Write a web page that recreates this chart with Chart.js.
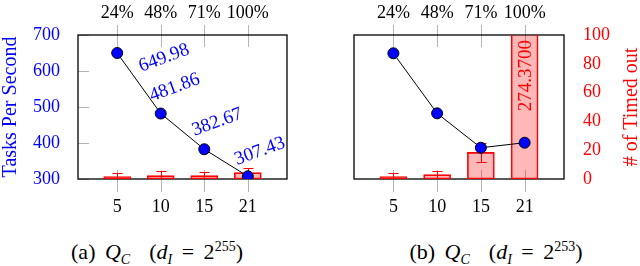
<!DOCTYPE html>
<html>
<head>
<meta charset="utf-8">
<script src="https://cdn.jsdelivr.net/npm/chart.js@4.4.1/dist/chart.umd.min.js"></script>
<style>
body { margin: 0; background: #fff; width: 640px; height: 266px; overflow: hidden; position: relative; font-family: "Liberation Serif", "Times New Roman", Times, "Nimbus Roman", "Noto Serif", "DejaVu Serif", FreeSerif, serif; }
.plot { position: absolute; top: 0; width: 320px; height: 225px; }
.cap { position: absolute; top: 240px; font-size: 22px; line-height: 24px; word-spacing: 4px; white-space: nowrap; transform: translateX(-50%); color: #000; }
.cap sub, .cap sup { font-size: 14px; line-height: 0; }
</style>
</head>
<body>
<div class="plot" style="left:0"><canvas id="chartA"></canvas></div>
<div class="plot" style="left:320px"><canvas id="chartB"></canvas></div>
<div class="cap" style="left:157px">(a) <i>Q<sub>C</sub></i>&nbsp; (<i>d<sub>I</sub></i> = 2<sup>255</sup>)</div>
<div class="cap" style="left:496px">(b) <i>Q<sub>C</sub></i>&nbsp; (<i>d<sub>I</sub></i> = 2<sup>253</sup>)</div>
<script>
// categories (bottom axis) and load share (top axis)
const threads = ['5', '10', '15', '21'];
const loads = ['24%', '48%', '71%', '100%'];
const pos = [1, 2, 3, 4];

// (a) d_I = 2^255
const tpsA = [649.98, 481.86, 382.67, 307.43];
const timeoutA = [1.6, 2.3, 2.3, 4.4];
const timeoutErrA = [2.4, 3.5, 2.3, 3.4];

// (b) d_I = 2^253 (points read against the right-hand scale, left axis is not shown)
const tpsB = [87.3, 45.6, 21.7, 25.2];
const timeoutB = [1.6, 3.0, 18.5, 274.37];
const timeoutErrB = [2.8, 2.8, 6.5, 8];

const SERIF = '"Liberation Serif", "Times New Roman", Times, "Nimbus Roman", "Noto Serif", "DejaVu Serif", FreeSerif, serif';
const BLUE = '#0000ff';
const RED = '#ff0000';
const GRAY = '#b4b4b4';

function pts(vals) {
    return pos.map((p, i) => ({ x: p, y: vals[i] }));
}

function xAxis(position, labels, pad, size) {
    return {
        type: 'linear',
        position: position,
        min: 0.7,
        max: 4.3,
        afterBuildTicks: s => { s.ticks = pos.map(v => ({ value: v })); },
        ticks: {
            callback: (v, i) => labels[i],
            color: '#000',
            font: { family: SERIF, size: 18 },
            padding: pad,
            maxRotation: 0,
            autoSkip: false
        },
        grid: { display: false },
        border: { display: false },
        afterFit: s => { s.height = size; }
    };
}

// box round the plot plus the small gray tick marks
const frame = {
    id: 'frame',
    beforeDatasetsDraw(chart, args, opts) {
        const { ctx, chartArea: a, scales } = chart;
        ctx.save();
        ctx.strokeStyle = GRAY;
        ctx.lineWidth = 1;
        ctx.beginPath();
        pos.forEach(v => {
            const x = Math.round(scales.x.getPixelForValue(v)) + 0.5;
            ctx.moveTo(x, a.top - 10);
            ctx.lineTo(x, a.top + 12);
            ctx.moveTo(x, a.bottom - 9);
            ctx.lineTo(x, a.bottom + 13);
        });
        if (opts.yTicks) {
            const y = scales[opts.yTicks];
            y.ticks.forEach(t => {
                const py = Math.round(y.getPixelForValue(t.value)) + 0.5;
                ctx.moveTo(a.left, py);
                ctx.lineTo(a.left + 11, py);
            });
        }
        ctx.stroke();
        ctx.strokeStyle = '#000';
        ctx.lineWidth = 1.3;
        ctx.strokeRect(a.left, a.top, a.right - a.left, a.bottom - a.top);
        ctx.restore();
    }
};

const errorBars = {
    id: 'errorBars',
    afterDatasetDraw(chart, args) {
        const ds = chart.data.datasets[args.index];
        if (!ds.errors) return;
        const { ctx, chartArea: a } = chart;
        const meta = args.meta;
        const y = chart.scales[meta.yAxisID];
        ctx.save();
        ctx.beginPath();
        ctx.rect(a.left, a.top, a.right - a.left, a.bottom - a.top);
        ctx.clip();
        ctx.strokeStyle = RED;
        ctx.lineWidth = 1;
        ctx.beginPath();
        meta.data.forEach((bar, i) => {
            const v = ds.data[i].y, e = ds.errors[i];
            const x = Math.round(bar.x) + 0.5;
            const y1 = Math.round(y.getPixelForValue(v + e)) + 0.5;
            const y0 = Math.round(y.getPixelForValue(v - e)) + 0.5;
            ctx.moveTo(x, y0); ctx.lineTo(x, y1);
            ctx.moveTo(x - 5, y1); ctx.lineTo(x + 5, y1);
            ctx.moveTo(x - 5, y0); ctx.lineTo(x + 5, y0);
        });
        ctx.stroke();
        ctx.restore();
    }
};

const valueLabels = {
    id: 'valueLabels',
    afterDatasetsDraw(chart, args, opts) {
        if (!opts.offsets) return;
        const ctx = chart.ctx;
        const meta = chart.getDatasetMeta(opts.dataset);
        const ds = chart.data.datasets[opts.dataset];
        ctx.save();
        ctx.font = '19px ' + SERIF;
        ctx.fillStyle = opts.color;
        ctx.textAlign = 'center';
        ctx.textBaseline = 'middle';
        meta.data.forEach((pt, i) => {
            const [dx, dy] = opts.offsets[i];
            ctx.save();
            ctx.translate(pt.x + dx, pt.y + dy);
            ctx.rotate(-20 * Math.PI / 180);
            ctx.fillText(ds.data[i].y.toFixed(2), 0, 0);
            ctx.restore();
        });
        ctx.restore();
    }
};

// value written inside a bar that runs off the top of the axis
const overflowLabel = {
    id: 'overflowLabel',
    afterDatasetsDraw(chart, args, opts) {
        if (opts.dataset === undefined) return;
        const { ctx, chartArea: a } = chart;
        const meta = chart.getDatasetMeta(opts.dataset);
        const ds = chart.data.datasets[opts.dataset];
        const y = chart.scales[meta.yAxisID];
        ctx.save();
        ctx.font = '19px ' + SERIF;
        ctx.fillStyle = RED;
        ctx.textAlign = 'right';
        ctx.textBaseline = 'middle';
        meta.data.forEach((bar, i) => {
            if (ds.data[i].y <= y.max) return;
            ctx.save();
            ctx.translate(bar.x + 1, a.top + 5);
            ctx.rotate(-Math.PI / 2);
            ctx.fillText(ds.data[i].y.toFixed(4), 0, 0);
            ctx.restore();
        });
        ctx.restore();
    }
};

// right axis title, reading bottom to top
const rightTitle = {
    id: 'rightTitle',
    afterDraw(chart, args, opts) {
        if (!opts.text) return;
        const { ctx, chartArea: a } = chart;
        ctx.save();
        ctx.font = '20px ' + SERIF;
        ctx.fillStyle = opts.color;
        ctx.textAlign = 'center';
        ctx.textBaseline = 'alphabetic';
        ctx.translate(chart.width - 3, (a.top + a.bottom) / 2);
        ctx.rotate(-Math.PI / 2);
        ctx.fillText(opts.text, 0, 0);
        ctx.restore();
    }
};

function lineSet(vals) {
    return {
        type: 'line',
        data: pts(vals),
        yAxisID: 'y',
        order: 0,
        borderColor: '#000',
        borderWidth: 1,
        tension: 0,
        pointRadius: 5.5,
        pointBackgroundColor: BLUE,
        pointBorderColor: '#000',
        pointBorderWidth: 1
    };
}

function barSet(vals, errs) {
    return {
        type: 'bar',
        data: pts(vals),
        errors: errs,
        yAxisID: 'yb',
        order: 1,
        backgroundColor: 'rgba(255,0,0,0.28)',
        borderColor: RED,
        borderWidth: 1,
        borderSkipped: false,
        barThickness: 27,
        clip: 0
    };
}

const chartA = new Chart(document.getElementById('chartA'), {
    type: 'bar',
    data: { datasets: [lineSet(tpsA), barSet(timeoutA, timeoutErrA)] },
    options: {
        responsive: true,
        maintainAspectRatio: false,
        animation: false,
        layout: { padding: { left: 0, right: 33, top: 0, bottom: 0 } },
        plugins: {
            legend: { display: false },
            tooltip: { enabled: false },
            frame: { yTicks: 'y' },
            valueLabels: { dataset: 0, color: BLUE, offsets: [[47, 5], [14, -26], [13, -27], [12, -25]] }
        },
        scales: {
            x: xAxis('bottom', threads, 9, 46),
            x2: xAxis('top', loads, 3, 35),
            y: {
                position: 'left',
                min: 300,
                max: 700,
                ticks: { stepSize: 100, color: BLUE, font: { family: SERIF, size: 18 }, padding: 10 },
                grid: { display: false },
                border: { display: false },
                title: { display: true, text: 'Tasks Per Second', color: BLUE, font: { family: SERIF, size: 20 }, padding: { top: -1, bottom: 0 } },
                afterFit: s => { s.width = 78; }
            },
            yb: { display: false, min: 0, max: 100 }
        }
    },
    plugins: [frame, errorBars, valueLabels]
});

const chartB = new Chart(document.getElementById('chartB'), {
    type: 'bar',
    data: { datasets: [lineSet(tpsB), barSet(timeoutB, timeoutErrB)] },
    options: {
        responsive: true,
        maintainAspectRatio: false,
        animation: false,
        layout: { padding: { left: 34, right: 0, top: 0, bottom: 0 } },
        plugins: {
            legend: { display: false },
            tooltip: { enabled: false },
            overflowLabel: { dataset: 1 },
            rightTitle: { text: '# of Timed out', color: RED }
        },
        scales: {
            x: xAxis('bottom', threads, 9, 46),
            x2: xAxis('top', loads, 3, 35),
            y: { display: false, min: 0, max: 100 },
            yb: {
                position: 'right',
                min: 0,
                max: 100,
                ticks: { stepSize: 20, color: RED, font: { family: SERIF, size: 18 }, padding: 11 },
                grid: { display: false },
                border: { display: false },
                afterFit: s => { s.width = 76; }
            }
        }
    },
    plugins: [frame, errorBars, overflowLabel, rightTitle]
});
</script>
</body>
</html>
